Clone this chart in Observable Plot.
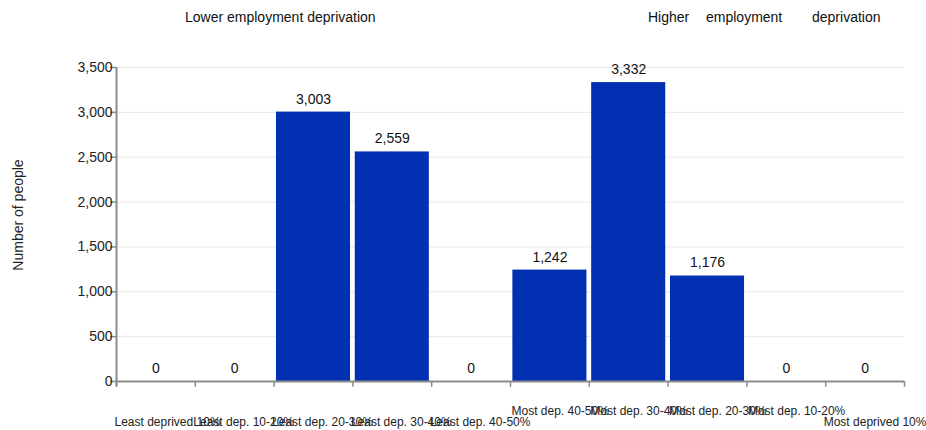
<!DOCTYPE html>
<html>
<head>
<meta charset="utf-8">
<script src="https://cdn.jsdelivr.net/npm/d3@7"></script>
<script src="https://cdn.jsdelivr.net/npm/@observablehq/plot@0.6"></script>
<style>
  html, body { margin: 0; padding: 0; background: #fff; overflow: hidden; }
  #wrap { position: relative; width: 926px; height: 430px; font-family: "Liberation Sans", Arial, sans-serif; }
  .hdr { position: absolute; top: 8px; font-size: 14px; line-height: 18px; color: #111; white-space: pre; }
  #ylab { position: absolute; left: 18px; top: 215px; transform: translate(-50%, -50%) rotate(-90deg); font-size: 14px; color: #222; white-space: nowrap; }
</style>
</head>
<body>
<div id="wrap">
  <div id="chart"></div>
  <div class="hdr" style="left:185px">Lower employment deprivation</div>
  <div class="hdr" style="left:648px">Higher</div>
  <div class="hdr" style="left:706px">employment</div>
  <div class="hdr" style="left:812px">deprivation</div>
  <div id="ylab">Number of people</div>
</div>
<script>
const categories = [
  "Least deprived 10%", "Least dep. 10-20%", "Least dep. 20-30%", "Least dep. 30-40%", "Least dep. 40-50%",
  "Most dep. 40-50%", "Most dep. 30-40%", "Most dep. 20-30%", "Most dep. 10-20%", "Most deprived 10%"
];
const values = [0, 0, 3003, 2559, 0, 1242, 3332, 1176, 0, 0];
const yTicks = [0, 500, 1000, 1500, 2000, 2500, 3000, 3500];
// label row: 0 = lower row, 1 = raised row (as rendered in the original)
const labelRow = [0, 0, 0, 0, 0, 1, 1, 1, 1, 0];

const data = categories.map((c, i) => ({ i, c, v: values[i], row: labelRow[i] }));
const fmt = d3.format(",");
const gray = "#8c8c8c";

const chart = Plot.plot({
  width: 926,
  height: 430,
  marginLeft: 116,
  marginRight: 22,
  marginTop: 67,
  marginBottom: 49,
  style: { fontFamily: "Liberation Sans, Arial, sans-serif", background: "#fff", overflow: "visible" },
  x: { domain: [0, categories.length], axis: null },
  y: { domain: [0, 3500], axis: null },
  marks: [
    Plot.gridY(yTicks, { stroke: "#e8e8e8", strokeOpacity: 1 }),
    Plot.rectY(data, { x1: d => d.i + 0.03, x2: d => d.i + 0.97, y1: 0, y2: "v", fill: "#0230b2" }),
    Plot.text(data, { x: d => d.i + 0.5, y: "v", text: d => fmt(d.v), dy: -13, fontSize: 14, fill: "#111" }),
    Plot.axisY({ ticks: yTicks, tickFormat: fmt, tickSize: 6, tickPadding: -2, stroke: gray, fontSize: 14, fill: "#222", label: null, strokeWidth: 1.5 }),
    Plot.ruleX([0], { y1: -60, y2: 3500, stroke: gray, strokeWidth: 2 }),
    Plot.ruleY([0], { stroke: gray, strokeWidth: 2 }),
    Plot.ruleX(d3.range(categories.length + 1), { y1: 0, y2: -65, stroke: gray, strokeWidth: 1.5 }),
    Plot.text(data.filter(d => d.row === 0), { x: "i", frameAnchor: "bottom", textAnchor: "start", lineAnchor: "middle",
      dx: -2, dy: 41, text: "c", fontSize: 12, fill: "#222" }),
    Plot.text(data.filter(d => d.row === 1), { x: "i", frameAnchor: "bottom", textAnchor: "start", lineAnchor: "middle",
      dx: 1, dy: 30, text: "c", fontSize: 12, fill: "#222" }),
  ]
});

document.getElementById("chart").appendChild(chart);
</script>
</body>
</html>
